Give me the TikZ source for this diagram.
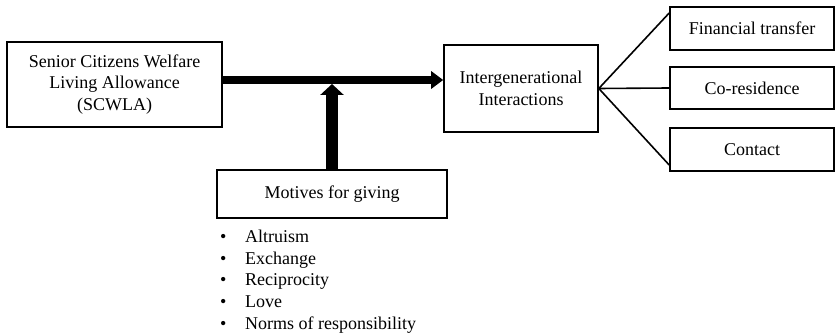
\documentclass[tikz,border=0pt]{standalone}
\usepackage{fontspec}
\setmainfont{Liberation Serif}
\usetikzlibrary{arrows.meta}
\begin{document}
\begin{tikzpicture}[x=1pt,y=-1pt,
  box/.style={draw=black,line width=1.6pt,inner sep=0pt,align=center,
    font=\fontsize{18}{21.7}\selectfont},
  txt/.style={inner sep=0pt,anchor=base west,font=\fontsize{18}{21.7}\selectfont},
  link/.style={line width=1.6pt},
  bigarrow/.style={line width=8pt,-{Triangle[length=12pt,width=17pt]}},
  uparrow/.style={line width=12pt,-{Triangle[length=11pt,width=23pt]}}]
\useasboundingbox (0,0) rectangle (835,336);
\node[box,minimum width=215pt,minimum height=85pt] (s) at (114.5,84.5)
  {Senior Citizens Welfare\\Living Allowance\\(SCWLA)};
\node[box,minimum width=154pt,minimum height=87pt] (i) at (521,88.5)
  {Intergenerational\\Interactions};
\node[box,minimum width=164pt,minimum height=43pt] (f) at (752,28.5) {Financial transfer};
\node[box,minimum width=164pt,minimum height=42pt] (c) at (752,88) {Co-residence};
\node[box,minimum width=164pt,minimum height=43pt] (k) at (752,149.5) {Contact};
\node[box,minimum width=230pt,minimum height=48pt] (m) at (332,194) {Motives for giving};
\foreach \n/\t/\y in {b1/Altruism/243,b2/Exchange/264.5,b3/Reciprocity/286,b4/Love/308,b5/Norms of responsibility/330}{
  \node[txt] (\n) at (245,\y) {\t};
  \node[txt] (\n d) at (220,\y) {\textbullet};
}
\coordinate (a) at ([yshift=4.5pt]s.east);
\draw[bigarrow] (a) -- (a -| i.west);
\draw[uparrow] (m.north) -- ([yshift=-4pt]m.north |- a);
\draw[link] (i.east) -- ([yshift=15.5pt]f.west);
\draw[link] (i.east) -- (c.west);
\draw[link] (i.east) -- ([yshift=-15.5pt]k.west);
\end{tikzpicture}
\end{document}
